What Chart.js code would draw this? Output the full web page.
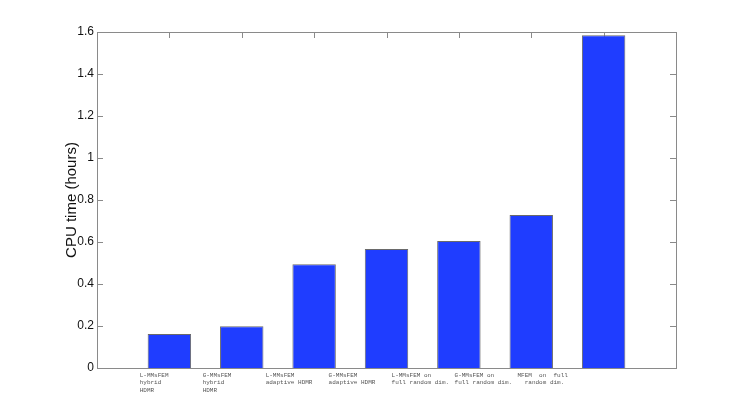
<!DOCTYPE html>
<html>
<head>
<meta charset="utf-8">
<script src="https://cdn.jsdelivr.net/npm/chart.js@4"></script>
<style>
  html, body { margin: 0; padding: 0; background: #fff; }
  #wrap { width: 747px; height: 415px; }
</style>
</head>
<body>
<div id="wrap"><canvas id="c" width="747" height="415"></canvas></div>
<script>
// ---- data ----
const categories = [
  ["L-MMsFEM", "hybrid", "HDMR"],
  ["G-MMsFEM", "hybrid", "HDMR"],
  ["L-MMsFEM", "adaptive HDMR"],
  ["G-MMsFEM", "adaptive HDMR"],
  ["L-MMsFEM on", "full random dim."],
  ["G-MMsFEM on", "full random dim."],
  ["MFEM  on  full", "  random dim."]
];
const cpuHours = [0.162, 0.199, 0.494, 0.567, 0.605, 0.729, 1.585];
const yTicks = [0, 0.2, 0.4, 0.6, 0.8, 1, 1.2, 1.4, 1.6];

const AXIS_COLOR = '#8a8a8a';

const boxPlugin = {
  id: 'matlabBox',
  beforeDatasetsDraw(chart) {
    const {ctx, chartArea: a, scales: {x, y}} = chart;
    ctx.save();
    ctx.strokeStyle = AXIS_COLOR;
    ctx.lineWidth = 1;
    ctx.strokeRect(Math.round(a.left) + 0.5, Math.round(a.top) + 0.5,
                   Math.round(a.right - a.left), Math.round(a.bottom - a.top));
    const tl = 6;
    ctx.beginPath();
    yTicks.forEach(v => {
      const py = Math.round(y.getPixelForValue(v)) + 0.5;
      ctx.moveTo(a.left, py); ctx.lineTo(a.left + tl, py);
      ctx.moveTo(a.right, py); ctx.lineTo(a.right - tl, py);
    });
    categories.forEach((_, i) => {
      const px = Math.round(x.getPixelForValue(i + 1)) + 0.5;
      ctx.moveTo(px, a.top); ctx.lineTo(px, a.top + tl);
      ctx.moveTo(px, a.bottom); ctx.lineTo(px, a.bottom - tl);
    });
    ctx.stroke();
    ctx.restore();
  },
  afterDraw(chart) {
    const {ctx, chartArea: a, scales: {x}} = chart;
    ctx.save();
    ctx.font = '6px "Liberation Mono", "DejaVu Sans Mono", monospace';
    ctx.fillStyle = '#555';
    ctx.textAlign = 'left';
    ctx.textBaseline = 'middle';
    categories.forEach((lines, i) => {
      const px = x.getPixelForValue(0.59 + 0.87 * i);
      lines.forEach((ln, j) => {
        ctx.fillText(ln, px, a.bottom + 7.5 + 7.4 * j);
      });
    });
    ctx.restore();
  }
};

new Chart(document.getElementById('c'), {
  type: 'bar',
  data: {
    datasets: [{
      data: cpuHours.map((v, i) => ({x: i + 1, y: v})),
      backgroundColor: '#1f3dff',
      borderColor: '#6a6a6a',
      borderWidth: 1,
      barPercentage: 0.6,
      categoryPercentage: 1
    }]
  },
  options: {
    responsive: false,
    animation: false,
    layout: { padding: { top: 32, right: 71, left: 0, bottom: 0 } },
    plugins: { legend: { display: false }, tooltip: { enabled: false } },
    scales: {
      x: {
        type: 'linear',
        offset: false,
        min: 0, max: 8,
        grid: { display: false, drawTicks: false, offset: false },
        border: { display: false },
        ticks: { display: false },
        afterFit(s) { s.height = 47; }
      },
      y: {
        min: 0, max: 1.6,
        afterBuildTicks(s) { s.ticks = yTicks.map(v => ({value: v})); },
        grid: { display: false, drawTicks: false },
        border: { display: false },
        ticks: {
          padding: 3,
          color: '#111',
          font: { family: '"Liberation Sans", Arial, sans-serif', size: 12 },
          callback: v => String(Number(v.toFixed(1)))
        },
        title: {
          display: true,
          text: 'CPU time (hours)',
          color: '#111',
          font: { family: '"Liberation Sans", Arial, sans-serif', size: 15 },
          padding: { top: 63, bottom: 0 }
        },
        afterFit(s) { s.width = 97; }
      }
    }
  },
  plugins: [boxPlugin]
});
</script>
</body>
</html>
